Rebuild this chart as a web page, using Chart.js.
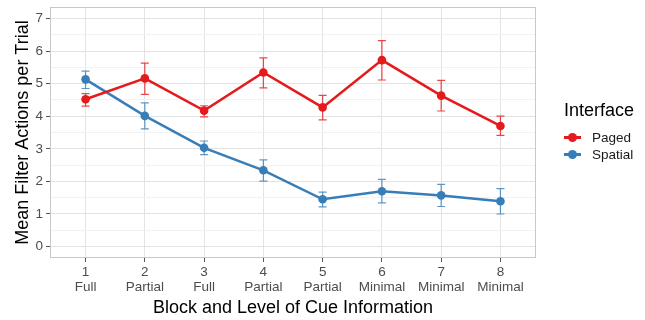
<!DOCTYPE html>
<html>
<head>
<meta charset="utf-8">
<script src="https://cdn.jsdelivr.net/npm/chart.js@4"></script>
<style>
  body { margin: 0; background: #fff; }
  #wrap { position: relative; width: 645px; height: 320px; font-family: "Liberation Sans", Arial, sans-serif; }
  #legend { position: absolute; left: 564px; top: 100px; }
  #legend .title { font-size: 18px; color: #000; margin-bottom: 8px; }
  #legend .item { font-size: 13.5px; color: #1a1a1a; height: 17px; line-height: 17px; display: flex; align-items: center; }
  #legend .sym { position: relative; width: 17px; height: 17px; margin-right: 11px; }
  #legend .sym .ln { position: absolute; left: 0; top: 7px; width: 17px; height: 2.5px; }
  #legend .sym .pt { position: absolute; left: 4px; top: 4px; width: 9px; height: 9px; border-radius: 50%; }
</style>
</head>
<body>
<div id="wrap">
  <canvas id="chart" width="645" height="320"></canvas>
  <div id="legend"></div>
</div>
<script>
// block numbers and level of cue information
const blocks = [1, 2, 3, 4, 5, 6, 7, 8];
const cueLevels = ['Full', 'Partial', 'Full', 'Partial', 'Partial', 'Minimal', 'Minimal', 'Minimal'];
const yTicks = [0, 1, 2, 3, 4, 5, 6, 7];

const seriesNames = ['Paged', 'Spatial'];
const pagedMean = [4.52, 5.16, 4.17, 5.34, 4.27, 5.72, 4.63, 3.70];
const pagedLow  = [4.31, 4.67, 3.98, 4.87, 3.89, 5.11, 4.16, 3.41];
const pagedHigh = [4.69, 5.63, 4.32, 5.79, 4.64, 6.32, 5.10, 4.00];
const spatialMean = [5.13, 4.01, 3.03, 2.34, 1.45, 1.70, 1.57, 1.39];
const spatialLow  = [4.85, 3.61, 2.82, 2.01, 1.22, 1.34, 1.23, 1.00];
const spatialHigh = [5.38, 4.41, 3.24, 2.66, 1.67, 2.06, 1.91, 1.78];

const colors = ['#E41A1C', '#377EB8'];
const errColors = ['rgba(228,26,28,0.8)', 'rgba(55,126,184,0.8)'];

function makeDataset(name, means, lows, highs, idx) {
	return {
		label: name,
		data: blocks.map((b, i) => ({ x: b, y: means[i], lo: lows[i], hi: highs[i] })),
		borderColor: colors[idx],
		backgroundColor: colors[idx],
		errColor: errColors[idx],
		borderWidth: 2.5,
		pointRadius: 4.3,
		pointHoverRadius: 4.3,
		pointBorderWidth: 0,
		tension: 0
	};
}

const datasets = [
	makeDataset(seriesNames[0], pagedMean, pagedLow, pagedHigh, 0),
	makeDataset(seriesNames[1], spatialMean, spatialLow, spatialHigh, 1)
];

// error bars + panel border
const errorBars = {
	id: 'errorBars',
	beforeDatasetsDraw(chart) {
		const ctx = chart.ctx;
		const xs = chart.scales.x, ys = chart.scales.y;
		ctx.save();
		chart.data.datasets.forEach(ds => {
			ctx.strokeStyle = ds.errColor;
			ctx.lineWidth = 1.2;
			ds.data.forEach(p => {
				const px = xs.getPixelForValue(p.x);
				const top = ys.getPixelForValue(p.hi);
				const bot = ys.getPixelForValue(p.lo);
				ctx.beginPath();
				ctx.moveTo(px, top); ctx.lineTo(px, bot);
				ctx.moveTo(px - 4, top); ctx.lineTo(px + 4, top);
				ctx.moveTo(px - 4, bot); ctx.lineTo(px + 4, bot);
				ctx.stroke();
			});
		});
		ctx.restore();
	},
	afterDraw(chart) {
		const a = chart.chartArea, ctx = chart.ctx;
		ctx.save();
		ctx.strokeStyle = '#C8C8C8';
		ctx.lineWidth = 1;
		ctx.strokeRect(Math.round(a.left) + 0.5, Math.round(a.top) + 0.5,
			Math.round(a.right - a.left) - 1, Math.round(a.bottom - a.top) - 1);
		ctx.restore();
	}
};

const isMajor = v => Math.abs(v - Math.round(v)) < 1e-6;
const noPad = s => { s.paddingTop = 0; s.paddingBottom = 0; s.paddingLeft = 0; s.paddingRight = 0; };

new Chart(document.getElementById('chart'), {
	type: 'line',
	data: { datasets: datasets },
	plugins: [errorBars],
	options: {
		responsive: false,
		animation: false,
		layout: { padding: { left: 12, right: 109, top: 7, bottom: 0 } },
		plugins: { legend: { display: false }, tooltip: { enabled: false } },
		scales: {
			x: {
				type: 'linear',
				min: 0.4,
				max: 8.6,
				afterBuildTicks: s => { s.ticks = blocks.map(v => ({ value: v })); },
				afterFit: s => { s.height = 62; noPad(s); },
				ticks: {
					autoSkip: false,
					maxRotation: 0,
					padding: 3,
					color: '#4D4D4D',
					font: { family: 'Liberation Sans', size: 13.5, lineHeight: 1.1 },
					callback: (v, i) => [String(blocks[i]), cueLevels[i]]
				},
				grid: { color: '#E3E3E3', lineWidth: 1, tickLength: 4, tickColor: '#555' },
				border: { display: false },
				title: {
					display: true,
					text: 'Block and Level of Cue Information',
					color: '#000',
					font: { family: 'Liberation Sans', size: 18 },
					padding: { top: 0, bottom: 1 }
				}
			},
			y: {
				type: 'linear',
				min: -0.35,
				max: 7.35,
				afterBuildTicks: s => {
					const t = [];
					yTicks.forEach((v, i) => {
						t.push({ value: v });
						if (i < yTicks.length - 1) t.push({ value: v + 0.5 });
					});
					s.ticks = t;
				},
				afterFit: s => { s.width = 38; noPad(s); },
				ticks: {
					autoSkip: false,
					padding: 3,
					color: '#4D4D4D',
					font: { family: 'Liberation Sans', size: 13.5 },
					callback: v => isMajor(v) ? String(v) : ''
				},
				grid: {
					color: c => isMajor(c.tick.value) ? '#E3E3E3' : '#F2F2F2',
					lineWidth: 1,
					tickLength: 4,
					tickColor: c => isMajor(c.tick.value) ? '#555' : 'rgba(0,0,0,0)'
				},
				border: { display: false },
				title: {
					display: true,
					text: 'Mean Filter Actions per Trial',
					color: '#000',
					font: { family: 'Liberation Sans', size: 18 },
					padding: { top: 0, bottom: 2 }
				}
			}
		}
	}
});

// legend
const legend = document.getElementById('legend');
let html = '<div class="title">Interface</div>';
seriesNames.forEach((n, i) => {
	html += '<div class="item"><span class="sym"><span class="ln" style="background:' + colors[i] +
		'"></span><span class="pt" style="background:' + colors[i] + '"></span></span>' + n + '</div>';
});
legend.innerHTML = html;
</script>
</body>
</html>
